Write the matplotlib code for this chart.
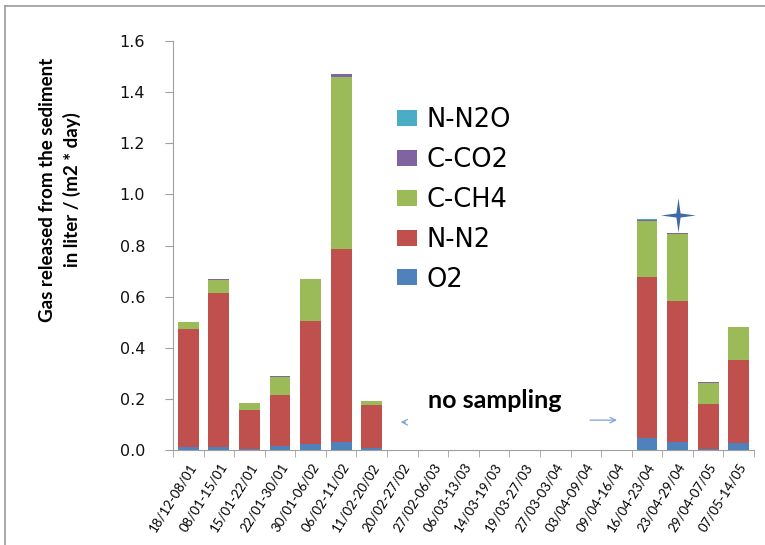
import numpy as np
import matplotlib
matplotlib.use("Agg")
import matplotlib.pyplot as plt
from matplotlib.path import Path
from matplotlib.lines import Line2D
from matplotlib.patches import Patch

# --------- Données ---------
periods = ["18/12-08/01", "08/01-15/01", "15/01-22/01", "22/01-30/01",
           "30/01-06/02", "06/02-11/02", "11/02-20/02", "20/02-27/02",
           "27/02-06/03", "06/03-13/03", "14/03-19/03", "19/03-27/03",
           "27/03-03/04", "03/04-09/04", "09/04-16/04", "16/04-23/04",
           "23/04-29/04", "29/04-07/05", "07/05-14/05"]

o2 = [0.010, 0.012, 0.003, 0.017, 0.023, 0.033, 0.007, 0, 0, 0, 0, 0, 0, 0, 0,
      0.046, 0.031, 0.002, 0.029]
n_n2 = [0.463, 0.601, 0.154, 0.198, 0.482, 0.752, 0.169, 0, 0, 0, 0, 0, 0, 0, 0,
        0.630, 0.552, 0.179, 0.322]
c_ch4 = [0.027, 0.051, 0.027, 0.072, 0.163, 0.673, 0.016, 0, 0, 0, 0, 0, 0, 0, 0,
         0.221, 0.261, 0.080, 0.130]
c_co2 = [0.001, 0.004, 0.001, 0.002, 0.002, 0.012, 0.001, 0, 0, 0, 0, 0, 0, 0, 0,
         0.004, 0.005, 0.004, 0.001]
n_n2o = [0, 0.001, 0, 0, 0, 0, 0, 0, 0, 0, 0, 0, 0, 0, 0,
         0.001, 0.001, 0, 0]

series = [("O2", o2, "#4F81BD"),
          ("N-N2", n_n2, "#C0504D"),
          ("C-CH4", c_ch4, "#9BBB59"),
          ("C-CO2", c_co2, "#8064A2"),
          ("N-N2O", n_n2o, "#4BACC6")]

W, H = 765, 545
fig = plt.figure(figsize=(W / 100, H / 100), dpi=100)
ax = fig.add_axes([173 / W, 1 - 450 / H, (754 - 173) / W, (450 - 41) / H])

x = np.arange(len(periods))
bottom = np.zeros(len(periods))
handles = []
for name, vals, col in series:
    vals = np.array(vals, dtype=float)
    ax.bar(x, vals, width=0.68, bottom=bottom, color=col, linewidth=0)
    bottom += vals
    handles.append(Patch(facecolor=col, edgecolor="none", label=name))

# étoile au-dessus de 23/04-29/04
star_idx = periods.index("23/04-29/04")
r_in = 0.17
verts = []
for k in range(8):
    ang = np.pi / 2 + k * np.pi / 4
    r = 1.0 if k % 2 == 0 else r_in
    verts.append((r * np.cos(ang), r * np.sin(ang)))
verts.append(verts[0])
star = Path(verts, [Path.MOVETO] + [Path.LINETO] * 7 + [Path.CLOSEPOLY])
ax.plot(star_idx, bottom[star_idx] + 0.07, marker=star, markersize=25,
        color="#3F6AA6", markeredgewidth=0, clip_on=False)

# axes
ax.set_xlim(-0.5, len(periods) - 0.5)
ax.set_ylim(0, 1.6)
ax.set_yticks(np.arange(0, 1.61, 0.2))
ax.set_yticklabels([f"{v:.1f}" for v in np.arange(0, 1.61, 0.2)])
ax.set_xticks(x)
ax.set_xticklabels(periods, rotation=58, ha="right", rotation_mode="anchor",
                   fontsize=9.5, fontfamily="Lato")
ax.set_xticks(np.arange(-0.5, len(periods)), minor=True)
ax.tick_params(axis="x", which="major", length=0, pad=8)
ax.tick_params(axis="x", which="minor", length=5, color="#A0A0A0")
ax.tick_params(axis="y", length=6, color="#A0A0A0", labelsize=11.5, pad=14,
               labelcolor="#111111")
for s in ["top", "right"]:
    ax.spines[s].set_visible(False)
for s in ["left", "bottom"]:
    ax.spines[s].set_color("#A0A0A0")

fig.text(60 / W, 1 - 190 / H,
         "Gas released from the sediment\nin liter / (m2 * day)",
         rotation=90, ha="center", va="center", fontsize=13.5,
         fontweight="bold", fontfamily="Lato", linespacing=1.45)

# légende
leg = ax.legend(handles=handles[::-1], loc="upper left",
                bbox_to_anchor=(397 / W, 1 - 107 / H),
                bbox_transform=fig.transFigure, frameon=False,
                prop={"family": "DejaVu Sans", "size": 18.5},
                labelspacing=0.54, handletextpad=0.35,
                borderpad=0, borderaxespad=0, handlelength=0.78,
                handleheight=0.58)

# no sampling
ax.text(0.554, 0.12, "no sampling", transform=ax.transAxes, ha="center",
        va="center", fontsize=18, fontweight="bold", fontfamily="Lato")
ax.annotate("", xy=(0.387, 0.068), xytext=(0.405, 0.068),
            xycoords="axes fraction",
            arrowprops=dict(arrowstyle="->", color="#7EA3D6", lw=0.9))
ax.annotate("", xy=(0.769, 0.073), xytext=(0.713, 0.073),
            xycoords="axes fraction",
            arrowprops=dict(arrowstyle="->", color="#7EA3D6", lw=0.9))

# cadre du graphique
fig.add_artist(Line2D([5 / W, 1], [1 - 6 / H, 1 - 6 / H], color="#999999", lw=1.2))
fig.add_artist(Line2D([5 / W, 5 / W], [0, 1 - 6 / H], color="#999999", lw=1.2))

fig.savefig("out.png", dpi=100)
